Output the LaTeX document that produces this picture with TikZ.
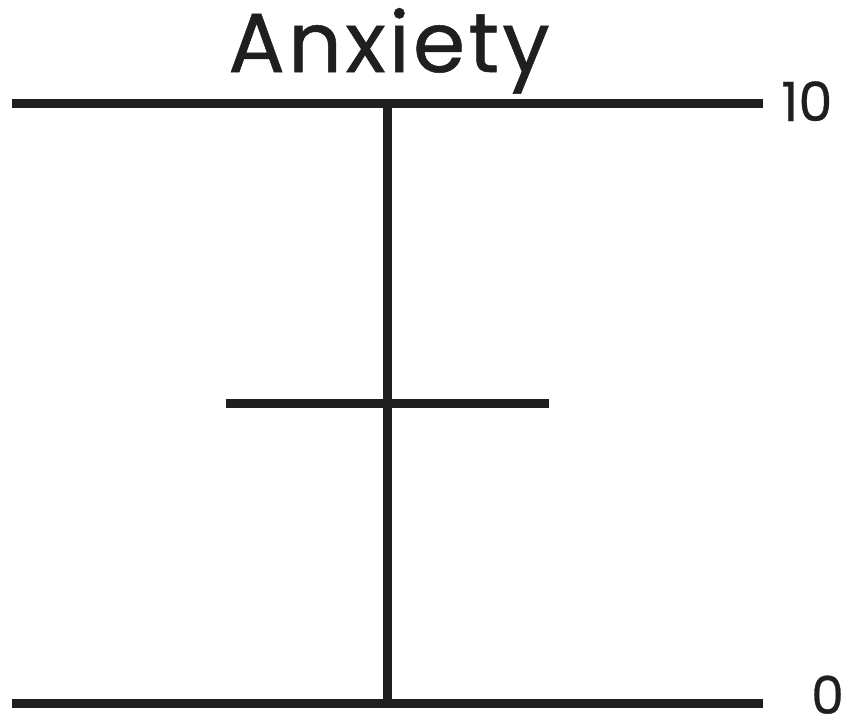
\documentclass[tikz,border=0pt]{standalone}
\usepackage{fontspec}
\setmainfont{Poppins}
\newfontfamily\titlefont{Poppins}[FakeBold=0.6, LetterSpace=4]
\newfontfamily\numfont{Poppins}[FakeBold=0.6]
\tikzset{
  bar/.style={line width=9pt, draw=black!88},
  lbl/.style={inner sep=0pt, text=black!88},
}
\begin{document}
\begin{tikzpicture}[x=1pt, y=-1pt]
\useasboundingbox (0,0) rectangle (853,721);
\node[lbl, anchor=base, font=\titlefont\fontsize{84}{90}\selectfont] (title) at (389,72) {Anxiety};
\coordinate (tl) at (12,103);
\coordinate (tr) at (763,103);
\coordinate (bl) at (12,703);
\coordinate (br) at (763,703);
\coordinate (vt) at (387.5,103);
\coordinate (vb) at (387.5,703);
\coordinate (ml) at (226,403);
\coordinate (mr) at (549,403);
\draw[bar] (tl) -- (tr);
\draw[bar] (bl) -- (br);
\draw[bar] (vt) -- (vb);
\draw[bar] (ml) -- (mr);
\node[lbl, anchor=base west, font=\numfont\fontsize{54}{60}\selectfont] (ten) at (781,121) {10};
\node[lbl, anchor=south west, text depth=0pt, font=\numfont\fontsize{52}{60}\selectfont] (zero) at (811,714) {0};
\end{tikzpicture}
\end{document}
